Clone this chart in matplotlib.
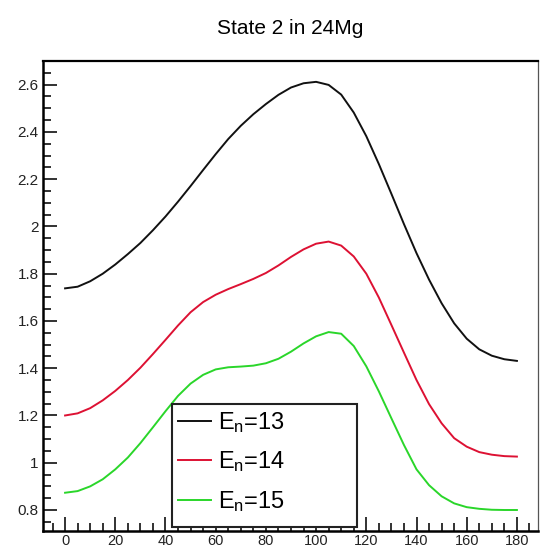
import matplotlib
matplotlib.use("Agg")
import matplotlib.pyplot as plt
from matplotlib import font_manager
from matplotlib.patches import Rectangle
from matplotlib.ticker import MultipleLocator, FuncFormatter

# angles (deg) and the three curves
theta = [0, 5, 10, 15, 20, 25, 30, 35, 40, 45, 50, 55, 60, 65, 70, 75, 80, 85, 90,
         95, 100, 105, 110, 115, 120, 125, 130, 135, 140, 145, 150, 155, 160, 165,
         170, 175, 180]
en13 = [1.738, 1.745, 1.768, 1.800, 1.839, 1.883, 1.930, 1.984, 2.042, 2.105, 2.171,
        2.239, 2.306, 2.370, 2.426, 2.475, 2.518, 2.557, 2.588, 2.606, 2.612, 2.599,
        2.558, 2.482, 2.382, 2.264, 2.138, 2.010, 1.887, 1.775, 1.675, 1.590, 1.525,
        1.480, 1.453, 1.438, 1.431]
en14 = [1.200, 1.209, 1.231, 1.264, 1.304, 1.350, 1.402, 1.460, 1.520, 1.581, 1.637,
        1.680, 1.711, 1.735, 1.756, 1.778, 1.803, 1.835, 1.871, 1.903, 1.927, 1.936,
        1.919, 1.873, 1.800, 1.699, 1.583, 1.466, 1.350, 1.248, 1.167, 1.104, 1.068,
        1.045, 1.034, 1.028, 1.026]
en15 = [0.873, 0.880, 0.900, 0.930, 0.972, 1.022, 1.083, 1.150, 1.218, 1.283, 1.335,
        1.372, 1.395, 1.404, 1.407, 1.411, 1.421, 1.440, 1.470, 1.505, 1.535, 1.553,
        1.546, 1.494, 1.408, 1.302, 1.188, 1.075, 0.972, 0.905, 0.858, 0.828, 0.812,
        0.805, 0.801, 0.800, 0.800]
labels = [r"E$_{n}$=13", r"E$_{n}$=14", r"E$_{n}$=15"]
colors = ["#111111", "#dd1133", "#2ad62a"]

# narrow font if we have it
fam = "Liberation Sans"
try:
    font_manager.findfont("Liberation Sans Narrow", fallback_to_default=False)
    fam = "Liberation Sans Narrow"
except Exception:
    pass
plt.rcParams["font.family"] = [fam, "DejaVu Sans"]
plt.rcParams["mathtext.fontset"] = "custom"
plt.rcParams["mathtext.rm"] = fam
plt.rcParams["mathtext.default"] = "regular"

fig = plt.figure(figsize=(5.4, 5.5), dpi=100)
ax = fig.add_axes([0.0796, 0.0345, 0.9167, 0.8545])

for ys, lab, c in zip([en13, en14, en15], labels, colors):
    ax.plot(theta, ys, color=c, lw=1.4, label=lab, solid_joinstyle="round")

ax.set_xlim(-8.8, 188.4)
ax.set_ylim(0.711, 2.70)
ax.xaxis.set_major_locator(MultipleLocator(20))
ax.xaxis.set_minor_locator(MultipleLocator(5))
ax.yaxis.set_major_locator(MultipleLocator(0.2))
ax.yaxis.set_minor_locator(MultipleLocator(0.05))
ax.yaxis.set_major_formatter(FuncFormatter(lambda v, p: f"{v:g}"))
ax.tick_params(which="both", direction="in", top=False, right=False,
               labelsize=11, colors="#222222", width=1.3)
ax.tick_params(which="major", length=10, pad=3)
ax.tick_params(which="minor", length=5.5)
ax.tick_params(axis="x", pad=2.5, labelsize=10.5)

for s in ["left", "bottom"]:
    ax.spines[s].set_linewidth(1.8)
ax.spines["top"].set_linewidth(1.6)
ax.spines["right"].set_linewidth(0.9)
ax.spines["right"].set_color("#555555")

# legend box
ax.add_patch(Rectangle((0.2606, 0.0085), 0.3737, 0.2615, transform=ax.transAxes,
                       facecolor="white", edgecolor="#222222", lw=1.5, zorder=5))
leg = ax.legend(loc="upper left", bbox_to_anchor=(0.2606, 0.27), frameon=False,
                fontsize=17, handlelength=1.4, handletextpad=0.3,
                labelspacing=0.62, borderaxespad=0.0, borderpad=0.25)
leg.set_zorder(6)

fig.text(0.537, 0.949, "State 2 in 24Mg", ha="center", va="center", fontsize=15)

fig.savefig("out.png", dpi=100)
